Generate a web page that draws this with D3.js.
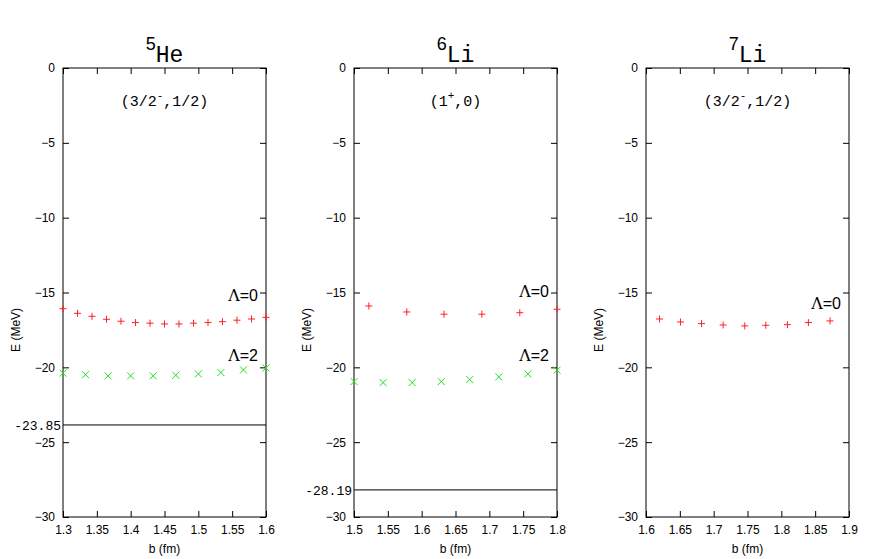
<!DOCTYPE html>
<html><head><meta charset="utf-8">
<script src="https://cdn.jsdelivr.net/npm/d3@7"></script>
<style>body{margin:0;background:#fff}</style>
</head><body><svg width="872" height="559" font-family="Liberation Sans, Arial, sans-serif"></svg>
<script>
// energies
var he5B0 = [1.3,1.3214,1.3429,1.3643,1.3857,1.4071,1.4286,1.45,1.4714,1.4929,1.5143,1.5357,1.5571,1.5786,1.6];
var he5E0 = [-16.08,-16.39,-16.59,-16.79,-16.92,-17.01,-17.05,-17.1,-17.1,-17.05,-17.01,-16.95,-16.85,-16.77,-16.66];
var he5B2 = [1.3,1.3333,1.3667,1.4,1.4333,1.4667,1.5,1.5333,1.5667,1.6];
var he5E2 = [-20.39,-20.49,-20.57,-20.57,-20.57,-20.53,-20.44,-20.35,-20.17,-20.04];
var li6B0 = [1.522,1.578,1.633,1.689,1.745,1.8];
var li6E0 = [-15.9,-16.3,-16.45,-16.45,-16.35,-16.12];
var li6B2 = [1.5,1.543,1.586,1.629,1.671,1.714,1.757,1.8];
var li6E2 = [-20.95,-21.02,-21.02,-20.95,-20.82,-20.64,-20.44,-20.19];
var li7B0 = [1.62,1.651,1.682,1.714,1.746,1.777,1.809,1.84,1.872];
var li7E0 = [-16.77,-16.97,-17.08,-17.17,-17.23,-17.19,-17.15,-17.01,-16.9];
var yTicks = [0,-5,-10,-15,-20,-25,-30];

var panels = [
  {x0:63, mass:"5", el:"He", state:["(3/2","-",",1/2)"], dom:[1.3,1.6], ticks:[1.3,1.35,1.4,1.45,1.5,1.55,1.6],
   s0:[he5B0,he5E0], s2:[he5B2,he5E2], thr:-23.85, thrLab:"-23.85", lab0:-15.6, lab2:-19.6},
  {x0:354, mass:"6", el:"Li", state:["(1","+",",0)"], dom:[1.5,1.8], ticks:[1.5,1.55,1.6,1.65,1.7,1.75,1.8],
   s0:[li6B0,li6E0], s2:[li6B2,li6E2], thr:-28.19, thrLab:"-28.19", lab0:-15.3, lab2:-19.6},
  {x0:646, mass:"7", el:"Li", state:["(3/2","-",",1/2)"], dom:[1.6,1.9], ticks:[1.6,1.65,1.7,1.75,1.8,1.85,1.9],
   s0:[li7B0,li7E0], s2:null, thr:null, lab0:-16.1}
];

var svg = d3.select("svg");
var W = 203, plotTop = 68, plotBot = 517;
var y = d3.scaleLinear().domain([-30,0]).range([plotBot,plotTop]);
var mono = "Liberation Mono, monospace";

panels.forEach(function(p){
  var x = d3.scaleLinear().domain(p.dom).range([p.x0, p.x0+W]);
  var g = svg.append("g");
  g.append("g").attr("transform","translate(0,"+plotBot+")")
    .call(d3.axisBottom(x).tickValues(p.ticks).tickSize(-6).tickPadding(8).tickFormat(d3.format("~g")));
  g.append("g").attr("transform","translate(0,"+plotTop+")")
    .call(d3.axisTop(x).tickValues(p.ticks).tickSize(-6).tickFormat(""));
  g.append("g").attr("transform","translate("+p.x0+",0)")
    .call(d3.axisLeft(y).tickValues(yTicks).tickSize(-6).tickPadding(8).tickFormat(d3.format("d")));
  g.append("g").attr("transform","translate("+(p.x0+W)+",0)")
    .call(d3.axisRight(y).tickValues(yTicks).tickSize(-6).tickFormat(""));
  g.selectAll(".domain").remove();
  g.selectAll(".tick line").attr("stroke","#000");
  g.selectAll(".tick text").attr("font-size",12).attr("fill","#000").attr("font-family",null);
  g.selectAll("g").attr("font-family",null);
  g.append("rect").attr("x",p.x0).attr("y",plotTop).attr("width",W).attr("height",plotBot-plotTop)
    .attr("fill","none").attr("stroke","#000");

  g.append("text").attr("x",p.x0+W/2).attr("y",plotBot+36).attr("text-anchor","middle")
    .attr("font-size",12).text("b (fm)");
  g.append("text").attr("transform","translate("+(p.x0-43)+","+y(-17.5)+") rotate(-90)")
    .attr("text-anchor","middle").attr("font-size",12).text("E (MeV)");

  var t = g.append("text").attr("x",p.x0+W/2).attr("y",62).attr("text-anchor","middle")
    .attr("font-family",mono).attr("font-size",23);
  t.append("tspan").attr("dy",-12).attr("font-size",18).attr("font-family","Liberation Sans").text(p.mass);
  t.append("tspan").attr("dy",12).text(p.el);

  var s = g.append("text").attr("x",p.x0+W/2).attr("y",106).attr("text-anchor","middle")
    .attr("font-family",mono).attr("font-size",15);
  s.append("tspan").text(p.state[0]);
  s.append("tspan").attr("dy",-7).attr("font-size",11).text(p.state[1]);
  s.append("tspan").attr("dy",7).text(p.state[2]);

  g.selectAll(".p0").data(p.s0[0]).join("path")
    .attr("d","M-3.5,0H3.5M0,-3.5V3.5")
    .attr("transform",function(d,i){return "translate("+x(d)+","+y(p.s0[1][i])+")";})
    .attr("stroke","#ff2020").attr("stroke-width",1);
  g.append("text").attr("x",p.x0+W-8).attr("y",y(p.lab0)).attr("text-anchor","end")
    .attr("font-size",16).html("<tspan font-family='DejaVu Serif'>Λ</tspan>=0");
  if(p.s2){
    g.selectAll(".p2").data(p.s2[0]).join("path")
      .attr("d","M-3.5,-3.5L3.5,3.5M-3.5,3.5L3.5,-3.5")
      .attr("transform",function(d,i){return "translate("+x(d)+","+y(p.s2[1][i])+")";})
      .attr("stroke","#20e020").attr("stroke-width",1);
    g.append("text").attr("x",p.x0+W-8).attr("y",y(p.lab2)).attr("text-anchor","end")
      .attr("font-size",16).html("<tspan font-family='DejaVu Serif'>Λ</tspan>=2");
  }
  if(p.thr!==null){
    g.append("line").attr("x1",p.x0).attr("x2",p.x0+W).attr("y1",y(p.thr)).attr("y2",y(p.thr))
      .attr("stroke","#000");
    g.append("rect").attr("x",p.x0-62).attr("y",y(p.thr)-8).attr("width",60).attr("height",15).attr("fill","#fff");
    g.append("text").attr("x",p.x0-2).attr("y",y(p.thr)+5).attr("text-anchor","end")
      .attr("font-family",mono).attr("font-size",13).text(p.thrLab);
  }
});
</script></body></html>
